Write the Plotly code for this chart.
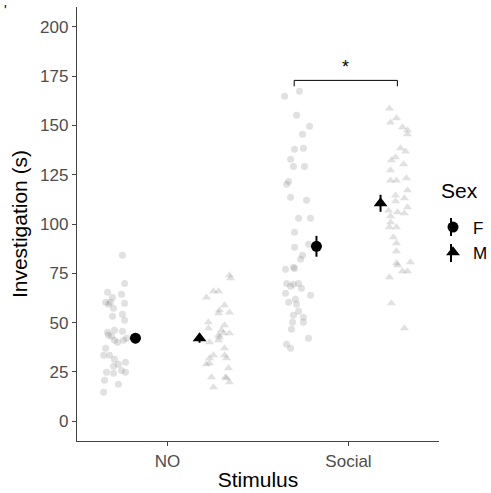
import plotly.graph_objects as go

# ---- data -------------------------------------------------------------
stimuli = ["NO", "Social"]
sexes = ["F", "M"]

# investigation time (s) per animal
no_f = [84.1, 69.9, 65.4, 62.8, 64.4, 60.3, 59.3, 59.8, 57.3, 53.2, 54.2, 51.2,
        45.1, 46.1, 45.6, 43.6, 41.1, 40.0, 42.1, 37.0, 33.5, 33.5, 31.4, 29.9,
        28.9, 27.9, 25.8, 24.8, 24.8, 24.3, 20.8, 18.8, 14.7, 43.1, 41.1, 60.3]
no_m = [74.0, 65.9, 65.9, 62.8, 58.8, 56.3, 55.2, 54.7, 50.2, 48.7, 47.1, 46.1,
        44.6, 43.6, 40.0, 41.1, 37.0, 33.5, 33.5, 31.9, 29.4, 26.9, 21.8, 22.3,
        19.8, 17.2, 72.5, 44.6, 42.6, 28.9, 22.3, 31.9]
social_f = [167.3, 164.7, 155.1, 149.5, 145.5, 137.9, 138.4, 132.8, 129.2, 129.2,
            121.6, 120.1, 113.5, 112.0, 102.9, 102.9, 95.8, 88.2, 89.7, 84.1,
            82.1, 77.0, 78.1, 69.9, 69.4, 69.9, 67.4, 64.9, 63.9, 60.3, 61.8,
            59.3, 55.8, 53.7, 52.7, 50.2, 50.2, 46.6, 42.1, 39.0, 37.0, 77.5, 68.4]
social_m = [158.6, 153.6, 151.5, 149.0, 147.5, 145.5, 138.4, 136.8, 133.8, 132.3,
            130.3, 127.2, 122.1, 122.1, 123.2, 117.1, 114.5, 113.0, 111.5, 108.5,
            105.9, 105.4, 103.9, 98.3, 98.3, 93.3, 90.2, 86.2, 80.1, 80.6, 76.0,
            76.0, 73.0, 59.8, 47.1, 100.9, 79.1, 106.9]

# horizontal jitter of each animal (category units)
no_f_jit = [0.031, 0.043, -0.051, -0.024, 0.026, -0.062, -0.046, 0.043, -0.018,
            -0.024, 0.031, 0.043, -0.051, -0.013, 0.031, -0.046, -0.013, 0.004,
            0.054, -0.062, -0.040, -0.073, -0.013, 0.048, 0.009, -0.018, 0.026,
            0.048, -0.057, -0.018, -0.068, 0.009, -0.073, -0.029, 0.037, -0.035]
no_m_jit = [0.062, -0.026, 0.002, -0.065, 0.035, 0.007, 0.062, 0.002, -0.054,
            0.035, -0.054, 0.018, 0.062, 0.002, -0.048, 0.002, 0.035, -0.026,
            0.035, 0.046, -0.048, 0.057, 0.046, -0.037, 0.062, -0.026, 0.068,
            0.029, 0.007, -0.065, 0.040, -0.048]
social_f_jit = [0.009, -0.073, -0.007, 0.065, 0.026, -0.018, 0.031, -0.040, -0.024,
                0.037, -0.051, -0.062, -0.040, 0.048, 0.004, 0.070, -0.018, -0.018,
                0.059, 0.026, 0.015, -0.068, -0.024, -0.062, -0.024, 0.004, 0.020,
                -0.068, 0.070, -0.051, -0.013, -0.007, 0.004, -0.024, 0.031, -0.029,
                0.031, -0.035, 0.059, -0.062, -0.040, -0.018, -0.040]
social_m_jit = [-0.054, -0.015, -0.048, 0.018, 0.046, 0.046, 0.007, 0.035, -0.020,
                -0.043, 0.024, -0.048, -0.015, -0.048, 0.040, 0.046, -0.020, 0.029,
                -0.020, 0.046, -0.009, 0.029, -0.048, -0.054, -0.015, -0.032, -0.015,
                -0.015, -0.015, 0.062, 0.018, 0.046, -0.054, -0.043, 0.029, -0.048,
                -0.009, -0.059]

# group means and standard errors (NO, Social)
mean_f = [42.1, 88.7]
mean_m = [42.1, 110.5]
se_f = [2.5, 5.3]
se_m = [2.3, 4.3]

# significance bracket between Social F and Social M
sig_x = [1.70, 2.27]
sig_y = 172.8
sig_drop = 3.0
sig_label = "*"

# ---- layout helpers ---------------------------------------------------
POINT_DODGE = 0.28
MEAN_DODGE = 0.177
FONT = "Liberation Sans, Arial, sans-serif"
L, R, T, B = 77, 52, 7, 52
W, H = 491, 493
pw, ph = W - L - R, H - T - B


def px_x(px):
    return (px - L) / pw


def px_y(py):
    return (H - B - py) / ph


fig = go.Figure()

raw = {
    ("F", 0): (no_f, no_f_jit), ("M", 0): (no_m, no_m_jit),
    ("F", 1): (social_f, social_f_jit), ("M", 1): (social_m, social_m_jit),
}
symbols = {"F": "circle", "M": "triangle-up"}
sizes = {"F": 7, "M": 8}

for (sex, ci), (vals, jit) in raw.items():
    sign = -1 if sex == "F" else 1
    xs = [ci + 1 + sign * POINT_DODGE + j for j in jit]
    fig.add_trace(go.Scatter(
        x=xs, y=vals, mode="markers", showlegend=False, hoverinfo="skip",
        marker=dict(symbol=symbols[sex], size=sizes[sex],
                    color="rgba(120,120,120,0.22)", line=dict(width=0)),
    ))

for sex, means, ses in (("F", mean_f, se_f), ("M", mean_m, se_m)):
    sign = -1 if sex == "F" else 1
    fig.add_trace(go.Scatter(
        x=[i + 1 + sign * MEAN_DODGE for i in range(len(stimuli))],
        y=means, mode="markers", name=sex,
        marker=dict(symbol=symbols[sex], size=11 if sex == "F" else 12, color="black"),
        error_y=dict(type="data", array=ses, color="black", thickness=2, width=0),
    ))

# significance bracket
fig.add_shape(type="path", xref="x", yref="y",
              path=(f"M {sig_x[0]},{sig_y - sig_drop} L {sig_x[0]},{sig_y} "
                    f"L {sig_x[1]},{sig_y} L {sig_x[1]},{sig_y - sig_drop}"),
              line=dict(color="black", width=1))
fig.add_annotation(x=sum(sig_x) / 2, y=sig_y, xref="x", yref="y", text=sig_label,
                   showarrow=False, yanchor="bottom", yshift=1,
                   font=dict(family=FONT, size=18, color="black"))

# legend heading and error-bar strokes through the legend keys
fig.add_annotation(x=px_x(439), y=px_y(190), xref="paper", yref="paper",
                   text="Sex", showarrow=False, xanchor="left", yanchor="middle",
                   font=dict(family=FONT, size=21, color="black"))
for cy in (227, 253):
    fig.add_shape(type="line", xref="paper", yref="paper",
                  x0=px_x(451), x1=px_x(451), y0=px_y(cy + 9), y1=px_y(cy - 9),
                  line=dict(color="black", width=2))

fig.add_annotation(x=px_x(2), y=px_y(0), xref="paper", yref="paper",
                   text="'", showarrow=False, xanchor="left", yanchor="top",
                   font=dict(family=FONT, size=14, color="black"))

axis_common = dict(showgrid=False, zeroline=False, showline=True, linecolor="#444",
                   linewidth=1.3, ticks="outside", ticklen=4, tickcolor="#444",
                   tickwidth=1.1, tickfont=dict(family=FONT, size=17, color="#4d4d4d"))

fig.update_layout(
    width=W, height=H,
    margin=dict(l=L, r=R, t=T, b=B, autoexpand=False),
    paper_bgcolor="white", plot_bgcolor="white",
    font=dict(family=FONT),
    xaxis=dict(range=[0.5, 2.5], tickvals=[1, 2], ticktext=stimuli,
               title=dict(text="Stimulus", standoff=2,
                          font=dict(family=FONT, size=21, color="black")),
               **axis_common),
    yaxis=dict(range=[-10, 210], tickvals=list(range(0, 201, 25)),
               title=dict(text="Investigation (s)", standoff=6,
                          font=dict(family=FONT, size=21, color="black")),
               **axis_common),
    legend=dict(x=px_x(433), xanchor="left", y=px_y(240), yanchor="middle",
                font=dict(family=FONT, size=17, color="black"),
                bgcolor="rgba(0,0,0,0)", itemwidth=30),
)

fig.write_html("out.html")
